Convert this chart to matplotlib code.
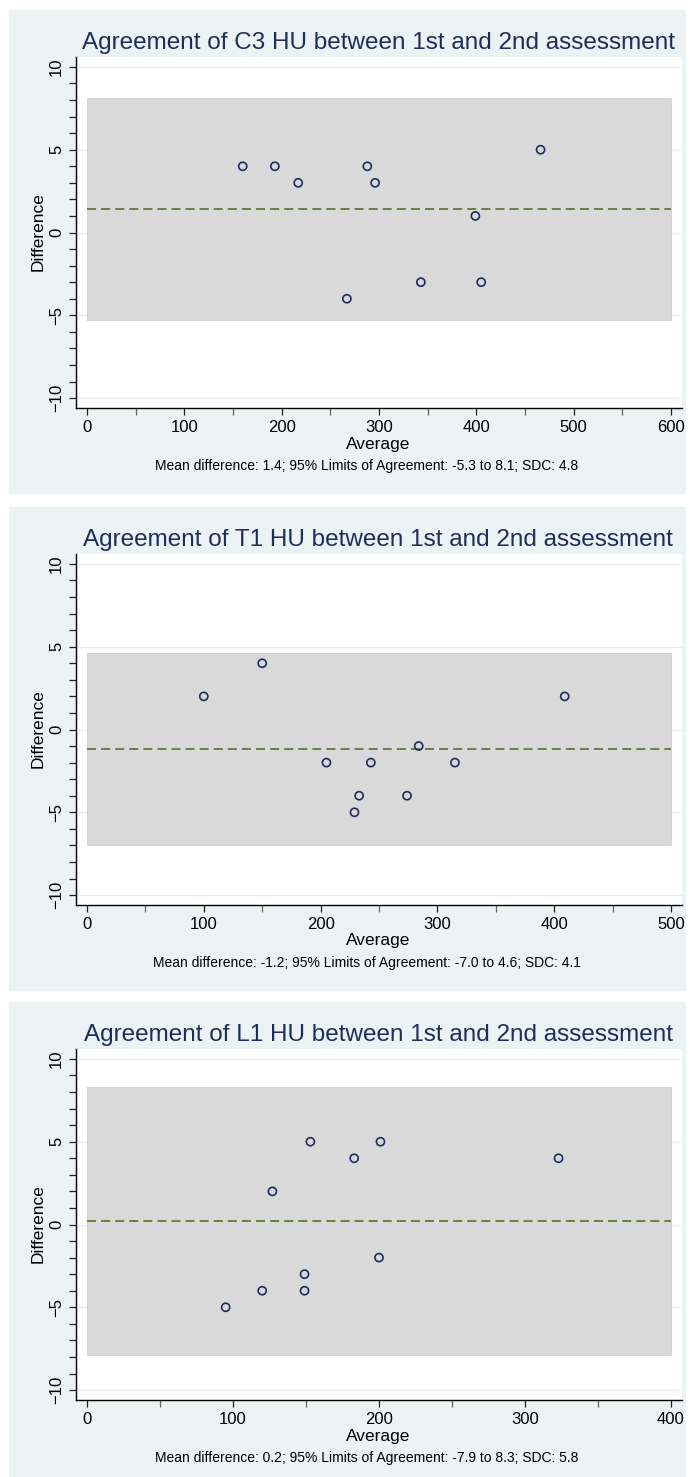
import matplotlib.pyplot as plt
from matplotlib.patches import Rectangle
from matplotlib.ticker import MultipleLocator

plt.rcParams['font.family'] = ['Liberation Sans', 'DejaVu Sans']

# --- Data ---
c3_avg = [160, 193, 217, 267, 288, 296, 343, 399, 405, 466]
c3_diff = [4, 4, 3, -4, 4, 3, -3, 1, -3, 5]

t1_avg = [100, 150, 205, 229, 233, 243, 274, 284, 315, 409]
t1_diff = [2, 4, -2, -5, -4, -2, -4, -1, -2, 2]

l1_avg = [95, 120, 127, 149, 149, 153, 183, 200, 201, 323]
l1_diff = [-5, -4, 2, -3, -4, 5, 4, -2, 5, 4]

levels = ['C3', 'T1', 'L1']
mean_diff = [1.4, -1.2, 0.2]
loa_low = [-5.3, -7.0, -7.9]
loa_high = [8.1, 4.6, 8.3]
sdc = [4.8, 4.1, 5.8]
x_max = [600, 500, 400]

avgs = [c3_avg, t1_avg, l1_avg]
diffs = [c3_diff, t1_diff, l1_diff]

# --- Styling ---
W, H = 693, 1477
BG = '#eaf2f3'
BAND = '#d9d9d9'
NAVY = '#1f2d5c'
GREEN = '#5b7b35'

fig = plt.figure(figsize=(W / 100, H / 100), dpi=100)


def fx(px):
    return px / W


def fy(py):
    return 1 - py / H


panel_tops = [10, 507, 1002]

for i in range(3):
    top = panel_tops[i]
    bot = min(top + 483, 1476)
    fig.patches.append(Rectangle((fx(9), fy(bot)), (685 - 9) / W, (bot - top) / H,
                                 transform=fig.transFigure, color=BG, zorder=-10))

    ax = fig.add_axes([fx(76), fy(top + 398), (682 - 76) / W, 351 / H])
    ax.set_facecolor('white')

    xm = x_max[i]
    ppu = 584 / xm
    ax.set_xlim(-11 / ppu, xm + 11 / ppu)
    ax.set_ylim(-10.6, 10.6)

    # grid at major y ticks
    for yv in [-10, -5, 0, 5, 10]:
        ax.axhline(yv, color='#e4edf0', lw=1.0, zorder=0.5)

    # limits of agreement band
    ax.fill_between([0, xm], loa_low[i], loa_high[i], color=BAND,
                    edgecolor='#d0d0d0', lw=0.6, zorder=1)
    # mean difference
    ax.plot([0, xm], [mean_diff[i], mean_diff[i]], ls='--', dashes=(5, 2.8),
            color=GREEN, lw=1.3, zorder=2)
    # points
    ax.scatter(avgs[i], diffs[i], s=34, facecolors='none', edgecolors=NAVY,
               linewidths=1.2, zorder=3)

    ax.spines['top'].set_visible(False)
    ax.spines['right'].set_visible(False)
    ax.spines['left'].set_linewidth(1.0)
    ax.spines['bottom'].set_linewidth(1.0)

    ax.set_yticks([-10, -5, 0, 5, 10])
    ax.yaxis.set_minor_locator(MultipleLocator(1))
    ax.set_xticks(range(0, xm + 1, 100))
    ax.xaxis.set_minor_locator(MultipleLocator(50))
    ax.tick_params(which='both', direction='out', length=5, width=0.9, color='#222222')
    ax.tick_params(axis='x', which='minor', color='#666666')
    ax.tick_params(axis='x', labelsize=12, pad=3.5)
    ax.tick_params(axis='y', labelsize=12, pad=3.5, labelrotation=90)
    for lab in ax.get_yticklabels():
        lab.set_va('center')

    fig.text(fx(378), fy(top + 39), f'Agreement of {levels[i]} HU between 1st and 2nd assessment',
             ha='center', va='baseline', fontsize=17.5, color=NAVY)
    fig.text(fx(38), fy(top + 222), 'Difference', rotation=90, ha='center', va='center',
             fontsize=12.5)
    fig.text(fx(378), fy(top + 434), 'Average', ha='center', va='center', fontsize=12.5)
    cap = (f'Mean difference: {mean_diff[i]:.1f}; 95% Limits of Agreement: '
           f'{loa_low[i]:.1f} to {loa_high[i]:.1f}; SDC: {sdc[i]:.1f}')
    fig.text(fx(367), fy(top + 456), cap, ha='center', va='center', fontsize=10)

fig.savefig('out.png', dpi=100, facecolor='white')
